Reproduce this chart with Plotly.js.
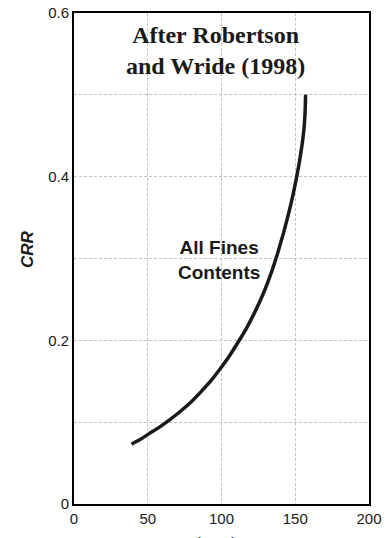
<!DOCTYPE html>
<html>
<head>
<meta charset="utf-8">
<script src="https://cdn.plot.ly/plotly-3.0.1.min.js"></script>
<style>
  html, body { margin: 0; padding: 0; background: #fff; }
  #chart { width: 387px; height: 538px; }
</style>
</head>
<body>
<div id="chart"></div>
<script>
// Clean-sand base curve: normalized cone resistance vs cyclic resistance ratio
const qc1Ncs = [39, 45, 51, 58, 65, 72, 79, 86, 93, 99, 105, 111, 117, 123, 129, 134, 138, 142, 145.5, 148.5, 151, 153, 154.7, 156, 156.7, 157];
const crr    = [0.073, 0.079, 0.086, 0.094, 0.103, 0.113, 0.124, 0.137, 0.151, 0.165, 0.180, 0.197, 0.215, 0.236, 0.260, 0.284, 0.306, 0.331, 0.355, 0.378, 0.400, 0.420, 0.440, 0.460, 0.480, 0.500];

const yTickVals = [0, 0.1, 0.2, 0.3, 0.4, 0.5, 0.6];
const yTickText = ['0', '', '0.2', '', '0.4', '', '0.6'];
const xTickVals = [0, 50, 100, 150, 200];
const xTickText = ['0', '50', '100', '150', '200'];

const curve = {
  x: qc1Ncs,
  y: crr,
  type: 'scatter',
  mode: 'lines',
  line: { color: '#1a1a1a', width: 3.5, shape: 'spline', smoothing: 0.5 },
  hoverinfo: 'skip',
  showlegend: false
};

const gridStyle = { gridcolor: '#c2c2c2', griddash: '3px,2px', gridwidth: 1 };

const layout = {
  width: 387,
  height: 538,
  margin: { l: 74, r: 18, t: 13, b: 34 },
  paper_bgcolor: '#ffffff',
  plot_bgcolor: '#ffffff',
  font: { family: 'Liberation Sans, Arial, sans-serif', color: '#1a1a1a' },
  xaxis: Object.assign({
    range: [0, 200],
    tickvals: xTickVals,
    ticktext: xTickText,
    tickfont: { size: 15, color: '#1a1a1a' },
    showline: true,
    linecolor: '#000',
    linewidth: 2,
    mirror: true,
    zeroline: false,
    ticks: '',
    showgrid: true
  }, gridStyle),
  yaxis: Object.assign({
    range: [0, 0.6],
    tickvals: yTickVals,
    ticktext: yTickText,
    tickfont: { size: 15, color: '#1a1a1a' },
    showline: true,
    linecolor: '#000',
    linewidth: 2,
    mirror: true,
    zeroline: false,
    ticks: '',
    showgrid: true
  }, gridStyle),
  annotations: [
    {
      // y-axis label
      x: -0.158, y: 0.312, xref: 'paper', yref: 'y',
      text: '<b><i>CRR</i></b>',
      textangle: -90,
      showarrow: false,
      xanchor: 'center', yanchor: 'middle',
      font: { family: 'Liberation Sans, Arial, sans-serif', size: 17, color: '#1a1a1a' }
    },
    {
      // x-axis label, sitting at the bottom edge of the page
      x: 0.5, y: -0.058, xref: 'paper', yref: 'paper',
      text: '(q<sub>c1N</sub>)<sub>cs</sub>',
      showarrow: false,
      xanchor: 'center', yanchor: 'top',
      font: { family: 'Liberation Sans, Arial, sans-serif', size: 17, color: '#1a1a1a' }
    },
    {
      x: 96, y: 0.554, xref: 'x', yref: 'y',
      text: '<b>After Robertson<br>and Wride (1998)</b>',
      showarrow: false,
      xanchor: 'center', yanchor: 'middle',
      font: { family: 'Liberation Serif, Times New Roman, serif', size: 24, color: '#1a1a1a' }
    },
    {
      x: 98, y: 0.298, xref: 'x', yref: 'y',
      text: '<b>All Fines<br>Contents</b>',
      showarrow: false,
      xanchor: 'center', yanchor: 'middle',
      font: { family: 'Liberation Sans, Arial, sans-serif', size: 19, color: '#1a1a1a' }
    }
  ]
};

Plotly.newPlot('chart', [curve], layout, { displayModeBar: false, staticPlot: true });
</script>
</body>
</html>
